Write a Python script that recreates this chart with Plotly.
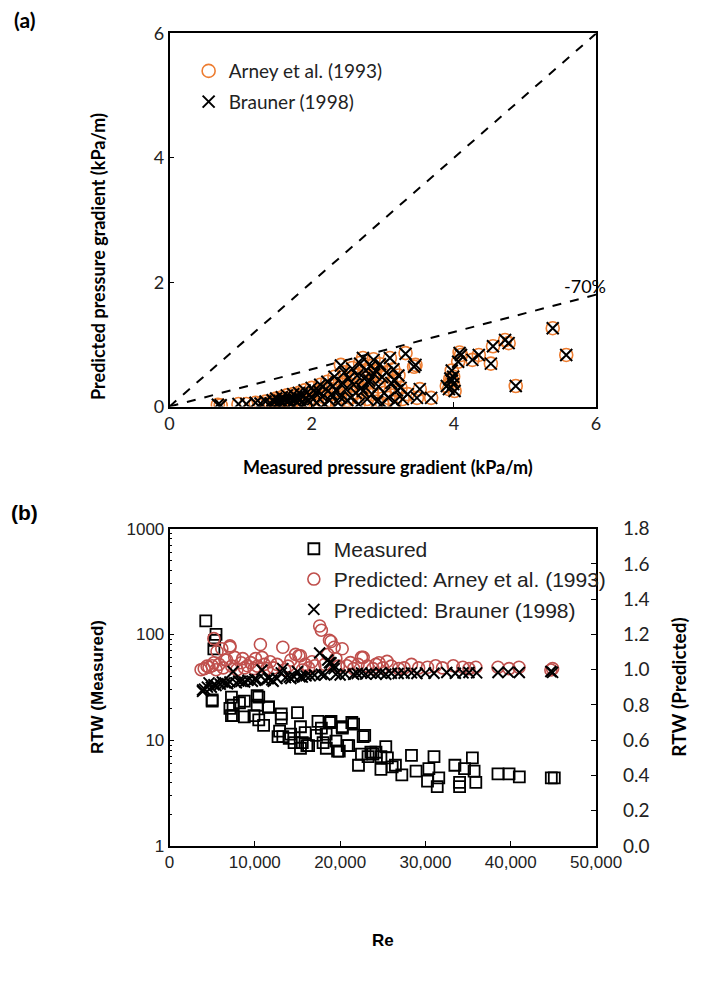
import plotly.graph_objects as go

# ---------------- Panel (a) data ----------------
meas_a = [0.68, 0.72, 0.97, 1.08, 1.21, 1.28, 1.35,
          1.42, 1.45, 1.48, 1.50, 1.53, 1.55, 1.58, 1.60, 1.62, 1.65, 1.67, 1.70, 1.72, 1.74,
          1.76, 1.78, 1.80, 1.82, 1.84, 1.86, 1.88, 1.90, 1.92, 1.95, 1.97, 2.00, 2.02, 2.05,
          2.07, 2.10, 2.12, 2.15, 2.18, 2.20, 2.22, 2.25, 2.28, 2.30, 2.32, 2.35, 2.37, 2.40,
          2.41, 2.43, 2.46, 2.48, 2.50, 2.52, 2.55, 2.57, 2.59, 2.62, 2.64, 2.66, 2.68, 2.70,
          2.72, 2.72, 2.74, 2.76, 2.78, 2.80, 2.81, 2.83, 2.85, 2.87, 2.88, 2.90, 2.92, 2.94,
          2.96, 2.99, 2.99, 3.02, 3.05, 3.08, 3.10, 3.12, 3.15, 3.17, 3.17, 3.20, 3.22, 3.25,
          3.28, 3.32, 3.35, 3.44, 3.46, 3.48, 3.52, 3.68,
          3.90, 3.93, 3.95, 3.97, 3.99, 3.97, 4.01, 3.99, 4.06, 4.08, 4.10, 4.26, 4.35, 4.52,
          4.55, 4.72, 4.77, 4.87, 5.39, 5.58]
arney_a = [0.03, 0.02, 0.04, 0.04, 0.06, 0.05, 0.08,
           0.05, 0.10, 0.07, 0.13, 0.04, 0.09, 0.15, 0.06, 0.11, 0.18, 0.08, 0.13, 0.05, 0.20,
           0.10, 0.16, 0.07, 0.22, 0.12, 0.18, 0.04, 0.26, 0.14, 0.09, 0.19, 0.30, 0.12, 0.22,
           0.06, 0.25, 0.35, 0.16, 0.04, 0.28, 0.40, 0.10, 0.20, 0.33, 0.48, 0.25, 0.06, 0.15,
           0.67, 0.38, 0.55, 0.28, 0.10, 0.45, 0.14, 0.62, 0.35, 0.22, 0.50, 0.04, 0.70, 0.30,
           0.25, 0.78, 0.45, 0.58, 0.12, 0.38, 0.42, 0.65, 0.20, 0.76, 0.52, 0.58, 0.08, 0.32,
           0.68, 0.47, 0.05, 0.22, 0.55, 0.14, 0.78, 0.38, 0.60, 0.42, 0.08, 0.26, 0.50, 0.30,
           0.12, 0.86, 0.20, 0.64, 0.67, 0.14, 0.28, 0.14,
           0.33, 0.28, 0.45, 0.42, 0.36, 0.58, 0.25, 0.48, 0.72, 0.87, 0.83, 0.75, 0.83, 0.69,
           0.97, 1.07, 1.02, 0.33, 1.26, 0.83]
brauner_a = [0.03, 0.02, 0.04, 0.04, 0.06, 0.05, 0.08,
             0.05, 0.10, 0.07, 0.13, 0.04, 0.09, 0.15, 0.06, 0.11, 0.18, 0.08, 0.13, 0.05, 0.20,
             0.10, 0.16, 0.07, 0.22, 0.12, 0.18, 0.04, 0.26, 0.14, 0.09, 0.19, 0.30, 0.12, 0.22,
             0.06, 0.25, 0.35, 0.16, 0.04, 0.28, 0.40, 0.10, 0.20, 0.33, 0.48, 0.25, 0.06, 0.15,
             0.66, 0.38, 0.55, 0.28, 0.10, 0.45, 0.14, 0.61, 0.35, 0.22, 0.50, 0.04, 0.69, 0.30,
             0.25, 0.78, 0.45, 0.58, 0.12, 0.38, 0.42, 0.65, 0.20, 0.75, 0.52, 0.58, 0.08, 0.32,
             0.68, 0.47, 0.05, 0.22, 0.55, 0.14, 0.78, 0.38, 0.60, 0.42, 0.08, 0.26, 0.50, 0.30,
             0.12, 0.85, 0.20, 0.64, 0.67, 0.14, 0.28, 0.14,
             0.33, 0.28, 0.45, 0.42, 0.36, 0.58, 0.25, 0.48, 0.72, 0.86, 0.83, 0.75, 0.83, 0.69,
             0.97, 1.07, 1.02, 0.33, 1.26, 0.83]
ref_x = [0, 6]
ref_one = [0, 6]
ref_minus70 = [0, 1.8]
ticks_a = [0, 2, 4, 6]

# ---------------- Panel (b) data ----------------
re_meas = [4250, 5450, 5300, 5200, 5000, 5000, 7260, 8200, 7450, 8770, 7260, 10460, 10270,
           9900, 11600, 10460, 11030, 13100, 15000, 12900, 13280, 14200, 15350, 15900, 17400,
           18930, 17800, 18360, 17230, 20240, 21370, 22880, 19500, 18000, 16100, 14600, 15350,
           19900, 21000, 23600, 24780, 22500, 8770, 10270, 7080, 7450, 11600, 13100, 12720,
           14030, 15560, 16300, 18760, 18380, 19700, 20260, 21580, 20830, 22150, 22700, 23270,
           23840, 24200, 24780, 25350, 25540, 26100, 26480, 27230, 28360, 28900, 30240, 30400,
           31000, 31380, 31560, 33450, 34000, 34000, 34580, 35500, 35700, 35900, 38500, 39800,
           41000, 44750, 45100]
rtw_meas = [134, 100, 88, 73, 24, 23.4, 25.6, 22.6, 21.4, 16.6, 17.1, 25.6, 21.4,
            17.1, 20.5, 15.6, 13.8, 16.1, 18.2, 12.2, 10.8, 11.4, 13.4, 11.8, 15.1,
            15.1, 13.0, 11.4, 11.1, 13.4, 14.7, 11.1, 9.8, 9.5, 8.9, 9.5, 8.4,
            7.9, 8.9, 7.7, 7.0, 7.4, 23.4, 26.4, 20.0, 17.1, 20.6, 17.7, 10.8,
            10.4, 9.5, 8.9, 14.7, 8.4, 7.9, 13.0, 14.2, 8.9, 5.8, 10.8, 7.0,
            7.4, 7.7, 5.3, 8.7, 6.8, 5.6, 5.8, 4.7, 7.2, 5.1, 4.1, 5.4,
            7.0, 3.65, 4.4, 5.8, 3.65, 4.0, 5.4, 6.8, 5.1, 4.0, 4.8, 4.8,
            4.5, 4.4, 4.4]

re_arney = [3700, 4070, 4400, 4630, 5000, 5200, 5200, 5450, 5570, 5800, 6130, 6300, 6520, 6700,
            7080, 7080, 7300, 7640, 7900, 8400, 8580, 8800, 9150, 9500, 9900, 10080, 10300,
            10650, 10840, 11100, 11400, 11800, 12200, 12600, 13280, 13500, 13900, 14220, 14780,
            15160, 15350, 15560, 15900, 16300, 16700, 17040, 17600, 17800, 18200, 18550, 18750,
            18930, 19300, 19500, 19800, 20240, 20800, 21200, 21580, 22100, 22500, 22700, 23200,
            23840, 24200, 24560, 25000, 25500, 26000, 26860, 27500, 28360, 29200, 30240, 31190,
            32000, 33260, 34380, 35100, 35900, 38500, 39800, 40960, 44700, 44900]
rtw_arney = [1.00, 1.006, 1.02, 1.014, 1.022, 1.176, 1.039, 1.00, 1.103, 1.03, 1.119, 1.01, 1.055, 1.055,
             1.135, 1.127, 1.02, 1.07, 1.00, 1.039, 1.063, 1.01, 1.022, 1.04, 1.006, 1.063, 1.02,
             1.143, 1.07, 1.03, 1.006, 1.045, 1.01, 1.03, 1.127, 1.00, 1.02, 1.055, 1.087,
             1.079, 1.079, 0.998, 1.03, 1.01, 1.045, 1.022, 1.248, 1.224, 1.03, 1.087, 1.167,
             1.16, 1.127, 1.063, 1.02, 1.119, 1.022, 1.04, 1.006, 1.03, 1.07, 1.07, 1.02,
             1.006, 1.03, 1.039, 1.01, 1.047, 1.02, 1.006, 1.01, 1.03, 1.01, 1.014, 1.022,
             1.01, 1.022, 1.014, 1.006, 1.014, 1.014, 1.006, 1.014, 0.998, 1.006]

re_brauner = [3880, 3880, 4100, 4440, 4630, 4900, 5200, 5450, 5950, 6200, 6520, 6800, 7080, 7450,
              7830, 8100, 8400, 8800, 9200, 9710, 10000, 10270, 10840, 11200, 11600, 11980, 12150,
              12600, 13100, 13280, 13600, 14030, 14220, 14600, 15000, 15300, 15560, 16000, 16490,
              17000, 17600, 17800, 18200, 18550, 18750, 18930, 19300, 19300, 19500, 20000, 20600,
              21580, 22000, 22500, 23000, 23600, 24200, 24780, 25350, 26000, 26800, 27500, 28360,
              29000, 30000, 31000, 32500, 33500, 34400, 35100, 36000, 38500, 39700, 41000, 44700,
              44900]
rtw_brauner = [0.885, 0.877, 0.89, 0.901, 0.925, 0.90, 0.915, 0.91, 0.917, 0.93, 0.925, 0.92, 0.93, 0.99,
               0.925, 0.935, 0.934, 0.93, 0.94, 0.934, 0.945, 0.942, 0.998, 0.94, 0.95, 0.942, 0.934,
               0.95, 0.982, 1.006, 0.955, 0.958, 0.95, 0.96, 0.99, 0.96, 0.958, 0.965, 0.966,
               0.97, 1.095, 0.974, 0.97, 1.055, 1.039, 1.039, 1.022, 1.006, 0.974, 0.97, 0.975,
               0.974, 0.978, 0.982, 0.975, 0.98, 0.975, 0.982, 0.974, 0.98, 0.978, 0.98, 0.982,
               0.978, 0.982, 0.98, 0.984, 0.98, 0.982, 0.984, 0.982, 0.984, 0.986, 0.984, 0.99,
               0.985]

re_ticks = [0, 10000, 20000, 30000, 40000, 50000]
re_ticktext = ["0", "10,000", "20,000", "30,000", "40,000", "50,000"]
log_ticks = [1, 10, 100, 1000]
log_minor = [m * d for d in (1, 10, 100) for m in range(2, 10)]
pred_ticks = [0.0, 0.2, 0.4, 0.6, 0.8, 1.0, 1.2, 1.4, 1.6, 1.8]

# ---------------- styling ----------------
W, H = 712, 983
CAL = "Lato, 'Open Sans', sans-serif"
ARI = "'Liberation Sans', Arial, sans-serif"
ORANGE = "#ED7D31"
RED = "#C0504D"


def px_x(v):
    return v / W


def px_y(v):
    return 1 - v / H


fig = go.Figure()

# panel (a)
fig.add_trace(go.Scatter(x=ref_x, y=ref_one, mode="lines", line=dict(color="black", dash="dash", width=2),
                         showlegend=False, xaxis="x", yaxis="y", hoverinfo="skip"))
fig.add_trace(go.Scatter(x=ref_x, y=ref_minus70, mode="lines", line=dict(color="black", dash="dash", width=2),
                         showlegend=False, xaxis="x", yaxis="y", hoverinfo="skip"))
fig.add_trace(go.Scatter(x=meas_a, y=arney_a, mode="markers", name="Arney et al. (1993)",
                         marker=dict(symbol="circle-open", size=13, color=ORANGE, line=dict(width=1.6, color=ORANGE)),
                         xaxis="x", yaxis="y", legend="legend2", legendgroup="a1"))
fig.add_trace(go.Scatter(x=meas_a, y=brauner_a, mode="markers", name="Brauner (1998)",
                         marker=dict(symbol="x-thin", size=12, color="black", line=dict(width=2, color="black")),
                         xaxis="x", yaxis="y", legend="legend2", legendgroup="a2"))

# panel (b)
fig.add_trace(go.Scatter(x=re_meas, y=rtw_meas, mode="markers", name="Measured",
                         marker=dict(symbol="square-open", size=11, color="black", line=dict(width=1.8, color="black")),
                         xaxis="x2", yaxis="y2", legend="legend"))
fig.add_trace(go.Scatter(x=re_arney, y=rtw_arney, mode="markers", name="Predicted: Arney et al. (1993)",
                         marker=dict(symbol="circle-open", size=12, color=RED, line=dict(width=1.6, color=RED)),
                         xaxis="x2", yaxis="y3", legend="legend"))
fig.add_trace(go.Scatter(x=re_brauner, y=rtw_brauner, mode="markers", name="Predicted: Brauner (1998)",
                         marker=dict(symbol="x-thin", size=11, color="black", line=dict(width=2, color="black")),
                         xaxis="x2", yaxis="y3", legend="legend"))

a_x0, a_x1, a_y0, a_y1 = 172, 618, 22, 404
b_x0, b_x1, b_y0, b_y1 = 172, 618, 529, 854

axis_common = dict(showline=True, linecolor="black", linewidth=1.6, mirror=True, showgrid=False,
                   zeroline=False, ticks="inside", ticklen=5, tickcolor="black", tickwidth=1.3)

fig.update_layout(
    width=W, height=H, margin=dict(l=0, r=0, t=0, b=0),
    paper_bgcolor="white", plot_bgcolor="white",
    xaxis=dict(domain=[px_x(a_x0), px_x(a_x1)], range=[0, 6], tickvals=ticks_a, anchor="y",
               tickfont=dict(family=CAL, size=18, color="#222"), **axis_common),
    yaxis=dict(domain=[px_y(a_y1), px_y(a_y0)], range=[0, 6], tickvals=ticks_a, anchor="x",
               tickfont=dict(family=CAL, size=18, color="#222"), **axis_common),
    xaxis2=dict(domain=[px_x(b_x0), px_x(b_x1)], range=[0, 50000], tickvals=re_ticks, ticktext=re_ticktext,
                anchor="y2", tickfont=dict(family=ARI, size=17, color="#222"), **axis_common),
    yaxis2=dict(domain=[px_y(b_y1), px_y(b_y0)], type="log", range=[0, 3], tickvals=log_ticks,
                ticktext=[str(v) for v in log_ticks], anchor="x2",
                minor=dict(tickvals=log_minor, ticks="inside", ticklen=3, tickcolor="black", showgrid=False),
                tickfont=dict(family=ARI, size=17, color="#222"), **axis_common),
    yaxis3=dict(overlaying="y2", side="right", range=[0, 1.8], tickvals=pred_ticks,
                ticktext=[f"{v:.1f}" for v in pred_ticks], anchor="x2", showgrid=False, zeroline=False,
                showline=False, ticks="inside", ticklen=5, tickcolor="black", tickwidth=1.3,
                ticklabelstandoff=26,
                tickfont=dict(family=CAL, size=19, color="#222")),
    legend2=dict(x=px_x(192), y=px_y(41), xanchor="left", yanchor="top", bgcolor="rgba(0,0,0,0)",
                 font=dict(family=CAL, size=19, color="#222"), tracegroupgap=3, itemwidth=30),
    legend=dict(x=px_x(302), y=px_y(529), xanchor="left", yanchor="top", bgcolor="rgba(0,0,0,0)",
                font=dict(family=ARI, size=21, color="#222"), itemwidth=30),
)


def note(text, x, y, family, size, angle=0, xref="paper", yref="paper"):
    return dict(text=text, x=x, y=y, xref=xref, yref=yref, showarrow=False, textangle=angle,
                xanchor="center", yanchor="middle", font=dict(family=family, size=size, color="black"))


ann = [
    note("<b>(a)</b>", px_x(20), px_y(8), CAL, 21),
    note("<b>(b)</b>", px_x(20), px_y(513), ARI, 21),
    note("<b>Predicted pressure gradient (kPa/m)</b>", px_x(97), px_y(250), CAL, 18, -90),
    note("<b>Measured pressure gradient (kPa/m)</b>", px_x(400), px_y(466), CAL, 18),
    note("-70%", px_x(606), px_y(281), CAL, 18),
    note("<b>RTW (Measured)</b>", px_x(97), px_y((b_y0 + b_y1) / 2), ARI, 17, -90),
    note("<b>RTW (Predicted)</b>", px_x(704), px_y((b_y0 + b_y1) / 2), CAL, 19, -90),
    note("<b>Re</b>", px_x((b_x0 + b_x1) / 2), px_y(951), ARI, 17),
]
fig.update_layout(annotations=ann)

fig.write_html("out.html")
